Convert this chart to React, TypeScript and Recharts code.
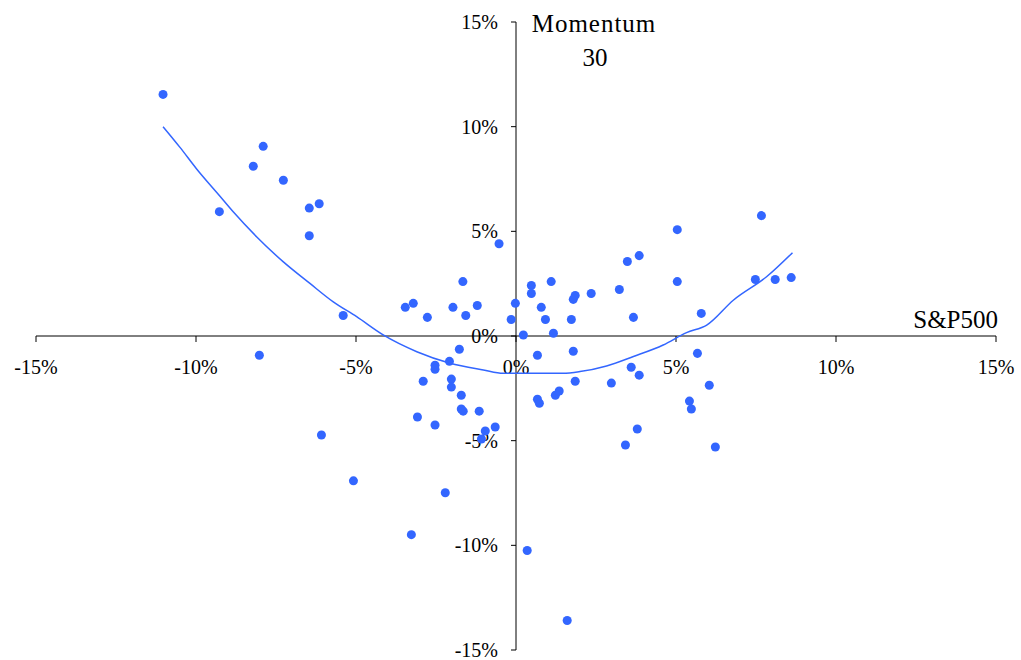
import { ScatterChart, Scatter, XAxis, YAxis, ZAxis } from 'recharts';

// S&P500 monthly return (x) vs Momentum 30 return (y), in %
const spx = [
  -11.03, -9.27, -8.21, -7.9, -7.27, -6.46, -6.15, -6.46, -5.4, -3.46,
  -3.21, -2.77, -1.97, -1.66, -1.57, -1.21, -0.53, -0.15, -0.02, 0.23,
  0.48, 0.48, 0.79, 0.92, 1.1, 1.17, 1.73, 1.79, 1.85, 2.35,
  3.23, 3.48, 3.67, 3.85, 5.04, 5.04, 5.79, 7.48, 7.67, 8.1,
  8.6, -8.02, -1.77, -2.08, -2.53, -2.53, -2.9, -2.02, -2.02, -1.71,
  -1.71, -1.65, -1.15, -3.08, -2.53, -0.96, -0.65, -1.08, -6.08, -5.08,
  -2.21, -3.27, 0.67, 1.79, 5.67, 3.6, 3.85, 1.85, 2.98, 6.04,
  0.67, 0.73, 1.23, 1.35, 5.42, 5.48, 3.79, 3.42, 6.23, 0.35,
  1.6,
];
const momentum = [
  11.54, 5.94, 8.11, 9.06, 7.44, 6.11, 6.32, 4.79, 0.98, 1.37,
  1.56, 0.89, 1.37, 2.6, 0.98, 1.46, 4.41, 0.79, 1.56, 0.05,
  2.41, 2.03, 1.37, 0.79, 2.6, 0.13, 0.79, 1.75, 1.94, 2.03,
  2.22, 3.56, 0.89, 3.84, 5.08, 2.6, 1.08, 2.7, 5.75, 2.7,
  2.79, -0.92, -0.63, -1.21, -1.4, -1.59, -2.16, -2.06, -2.44, -2.83,
  -3.49, -3.59, -3.59, -3.87, -4.25, -4.54, -4.35, -4.92, -4.73, -6.92,
  -7.49, -9.49, -0.92, -0.73, -0.83, -1.49, -1.87, -2.16, -2.25, -2.35,
  -3.02, -3.21, -2.83, -2.63, -3.11, -3.49, -4.44, -5.21, -5.3, -10.25,
  -13.59,
];

// trend line
const trendX = [
  -11.03, -10.5, -9.98, -9.27, -8.83, -8.1, -7.27, -6.44, -5.71, -4.98,
  -4.15, -3.1, -2.06, -1.02, -0.4, 0.5, 1.47, 2.0, 2.83, 3.67,
  4.6, 5.33, 5.96, 6.79, 7.83, 8.64,
];
const trendY = [
  10.0, 9.01, 7.98, 6.71, 5.92, 4.73, 3.54, 2.51, 1.63, 0.92,
  0.05, -0.75, -1.3, -1.62, -1.78, -1.78, -1.78, -1.7, -1.43, -0.98,
  -0.43, 0.16, 0.52, 1.71, 2.83, 3.98,
];

const ticks = [-15, -10, -5, 0, 5, 10, 15];

const points = spx.map((x, i) => ({ x, y: momentum[i] }));
const trend = trendX.map((x, i) => ({ x, y: trendY[i] }));

const BLUE = '#3366ff';
const font = 'Liberation Serif, Times New Roman, serif';
const pct = (v: number) => `${v}%`;
const tickStyle = { fill: '#000', fontSize: 20, fontFamily: font };
const black = { stroke: '#000', strokeWidth: 1 };

export default function App() {
  return (
    <div style={{ position: 'absolute', left: 0, top: 0, width: 1021, height: 660, background: '#fff' }}>
      {/* vertical axis through x = 0 */}
      <div style={{ position: 'absolute', left: 0, top: 0 }}>
        <ScatterChart width={1021} height={660} margin={{ top: 22, right: 25, bottom: 10, left: 456 }}>
          <XAxis type="number" dataKey="x" domain={[-15, 15]} allowDataOverflow hide />
          <YAxis
            type="number"
            dataKey="y"
            domain={[-15, 15]}
            allowDataOverflow
            ticks={ticks}
            tickFormatter={pct}
            width={60}
            tickSize={5}
            tickMargin={13}
            axisLine={black}
            tickLine={black}
            tick={tickStyle}
            interval={0}
          />
          <Scatter data={[]} isAnimationActive={false} />
        </ScatterChart>
      </div>
      {/* horizontal axis through y = 0 */}
      <div style={{ position: 'absolute', left: 0, top: 0 }}>
        <ScatterChart width={1021} height={400} margin={{ top: 22, right: 25, bottom: 0, left: 36 }}>
          <XAxis
            type="number"
            dataKey="x"
            domain={[-15, 15]}
            allowDataOverflow
            ticks={ticks}
            tickFormatter={pct}
            height={64}
            tickSize={6}
            tickMargin={18}
            axisLine={black}
            tickLine={black}
            tick={tickStyle}
            interval={0}
          />
          <YAxis type="number" dataKey="y" domain={[-15, 15]} allowDataOverflow hide />
          <Scatter data={[]} isAnimationActive={false} />
        </ScatterChart>
      </div>
      {/* data */}
      <div style={{ position: 'absolute', left: 0, top: 0 }}>
        <ScatterChart width={1021} height={660} margin={{ top: 22, right: 25, bottom: 10, left: 36 }}>
          <XAxis type="number" dataKey="x" domain={[-15, 15]} allowDataOverflow hide />
          <YAxis type="number" dataKey="y" domain={[-15, 15]} allowDataOverflow hide />
          <ZAxis range={[42, 42]} />
          <Scatter
            data={trend}
            line={{ stroke: BLUE, strokeWidth: 1.5 }}
            lineType="joint"
            lineJointType="monotoneX"
            shape={() => <g />}
            isAnimationActive={false}
          />
          <Scatter data={points} fill={BLUE} isAnimationActive={false} />
        </ScatterChart>
      </div>
      <svg width={1021} height={660} style={{ position: 'absolute', left: 0, top: 0, pointerEvents: 'none' }}>
        <text x={594} y={32} textAnchor="middle" fontSize={25} letterSpacing={1} fontFamily={font} fill="#000">
          Momentum
        </text>
        <text x={595} y={66} textAnchor="middle" fontSize={25} fontFamily={font} fill="#000">
          30
        </text>
        <text x={998} y={328} textAnchor="end" fontSize={25} fontFamily={font} fill="#000">
          S&amp;P500
        </text>
      </svg>
    </div>
  );
}
